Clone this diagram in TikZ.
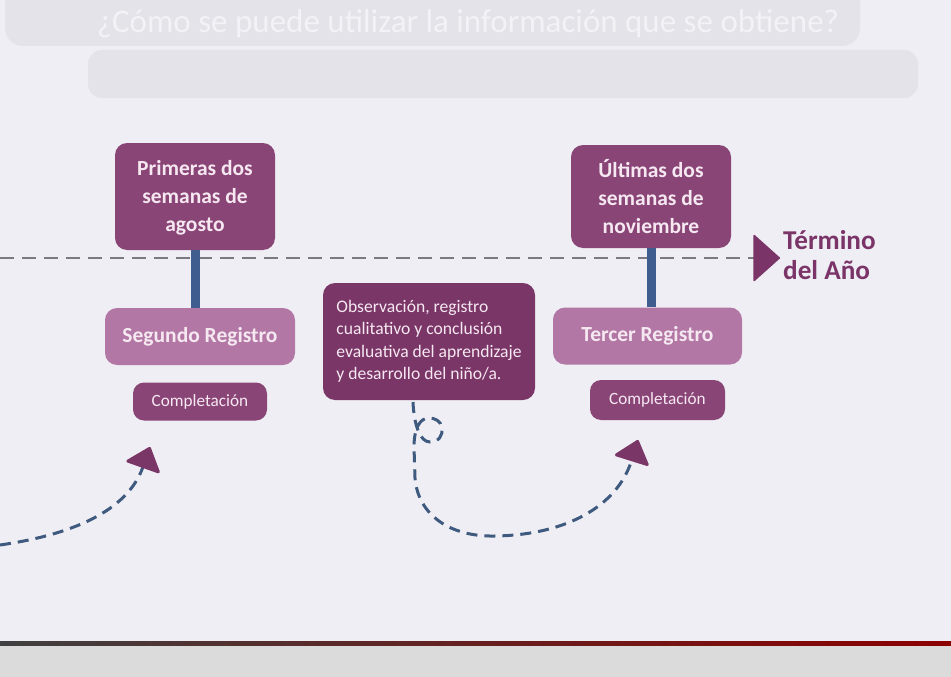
\documentclass[tikz,border=0pt]{standalone}
\usepackage{fontspec}
\setmainfont{Carlito}
\usetikzlibrary{arrows.meta}
\definecolor{pagebg}{HTML}{EFEEF4}
\definecolor{darkbox}{HTML}{8A4577}
\definecolor{midbox}{HTML}{7B3668}
\definecolor{lightbox}{HTML}{B277A5}
\definecolor{boxtext}{HTML}{F6E8F1}
\definecolor{barblue}{HTML}{3F5E8F}
\definecolor{curvecol}{HTML}{3E5A7E}
\definecolor{hline}{HTML}{7A7A80}
\definecolor{termcol}{HTML}{7A3468}
\definecolor{fadeband}{HTML}{E4E3E9}
\definecolor{fadetext}{HTML}{F3F2F6}
\tikzset{
  bigbox/.style={rectangle, rounded corners=12pt, fill=darkbox, text=boxtext,
    minimum width=160pt, align=center, inner sep=0pt,
    font=\fontsize{21.5}{28}\selectfont\bfseries},
  regbox/.style={rectangle, rounded corners=12pt, fill=lightbox, text=boxtext,
    minimum height=57pt, align=center, inner sep=0pt,
    font=\fontsize{21.5}{24}\selectfont\bfseries},
  pill/.style={rectangle, rounded corners=11pt, fill=darkbox, text=boxtext,
    minimum width=134pt, minimum height=38pt, inner sep=0pt,
    font=\fontsize{17.2}{20}\selectfont},
  notebox/.style={rectangle, rounded corners=12pt, fill=midbox, text=boxtext,
    minimum width=212pt, minimum height=117pt, align=left, inner sep=0pt,
    font=\fontsize{17.6}{22.5}\selectfont},
  vbar/.style={draw=barblue, line width=9pt},
  timeline/.style={draw=hline, line width=1.6pt, dash pattern=on 14pt off 8pt,
    -{Triangle[length=27pt,width=48pt,round,color=termcol]}},
  flow/.style={draw=curvecol, line width=3pt, dash pattern=on 11pt off 7pt,
    -{Triangle[length=23pt,width=38pt,round,color=midbox]}},
}
\begin{document}
\begin{tikzpicture}[x=1pt,y=-1pt]
\useasboundingbox (0,0) rectangle (951,677);
% page background
\fill[pagebg] (0,0) rectangle (951,643);
\fill[black!14] (0,643) rectangle (951,677);
\shade[left color=black!75, right color=red!55!black] (0,641.5) rectangle (951,645);
% faded printed-through background
\fill[fadeband, rounded corners=18pt] (5,-20) rectangle (860,46);
\node[text=fadetext, font=\fontsize{33}{36}\selectfont] (ftitle) at (468,24)
  {¿Cómo se puede utilizar la información que se obtiene?};
\fill[fadeband, rounded corners=14pt] (88,50) rectangle (918,98);

% timeline
\coordinate (hstart) at (0,258);
\coordinate (hend) at (780,258);
\draw[timeline] (hstart) -- (hend);
\node[anchor=west, text=termcol, align=left, inner sep=0pt,
  font=\fontsize{27.2}{30}\selectfont\bfseries] (term) at (783,255) {Término\\del Año};

% left column
\node[bigbox, minimum height=107pt, text depth=2pt] (b1) at (195,196.5) {Primeras dos\\semanas de\\agosto};
\node[regbox, minimum width=190pt] (r1) at (200,336.5) {Segundo Registro};
\node[pill] (c1) at (200,401.5) {Completación};
\draw[vbar] (b1.south) -- (b1.south |- r1.north);

% right column
\node[bigbox, minimum height=103pt] (b3) at (651,196.5) {Últimas dos\\semanas de\\noviembre};
\node[regbox, minimum width=189pt] (r3) at (647.5,336) {Tercer Registro};
\node[pill, minimum width=135pt, minimum height=40pt] (c3) at (657.5,400) {Completación};
\draw[vbar] (b3.south) -- (b3.south |- r3.north);

% middle note
\node[notebox] (note) at (429,341.5)
  {Observación, registro\\cualitativo y conclusión\\evaluativa del aprendizaje\\y desarrollo del niño/a.};

% dashed flow curves
\coordinate (lstart) at (0,545);
\coordinate (ltip) at (150,447);
\draw[flow] (lstart) .. controls (70,535) and (127,512) .. (ltip);

\coordinate (mstart) at (413,402);
\coordinate (mtip) at (638,440);
\draw[flow] (mstart) .. controls (414,425) and (420,442) .. (430,442)
  .. controls (439,442) and (443,435) .. (442,428)
  .. controls (441,421) and (435,418) .. (429,418)
  .. controls (420,418) and (414,428) .. (414,447)
  -- (415,478) .. controls (418,515) and (450,537) .. (495,536)
  .. controls (565,535) and (617,507) .. (mtip);
\end{tikzpicture}
\end{document}
